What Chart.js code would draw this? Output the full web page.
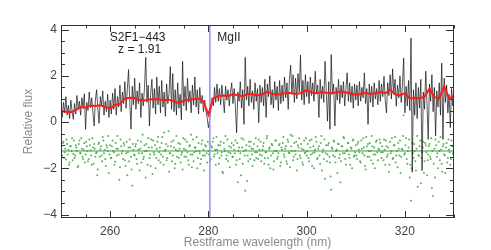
<!DOCTYPE html>
<html>
<head>
<meta charset="utf-8">
<script src="https://cdn.jsdelivr.net/npm/chart.js@4.4.1/dist/chart.umd.min.js"></script>
<style>
  html, body { margin: 0; padding: 0; background: #fff; }
  #spec { display: block; }
</style>
</head>
<body>
<canvas id="spec" width="491" height="250"></canvas>
<script>
// wavelength grid of the spectrum (nm)
const waveStart = 250;
const waveStep = 0.25;

// relative flux, one row per 5 nm
const flux = [
  0.62,0.21,0.85,0.40,1.10,0.30,0.72,0.15,0.95,0.48,0.12,0.80,0.35,1.15,0.55,0.90,0.30,1.05,0.60,1.22,
  -0.31,0.85,0.50,1.30,0.62,1.05,0.40,-0.17,0.95,1.40,0.55,-0.05,1.10,0.70,1.35,0.30,0.90,0.45,1.20,0.20,
  0.95,0.35,1.25,0.55,1.45,0.30,1.10,0.65,1.60,0.45,1.30,0.80,1.75,0.60,1.40,2.27,0.90,-0.30,1.55,0.75,
  1.90,0.55,1.35,0.80,1.70,0.20,1.25,0.70,1.50,2.80,0.85,1.60,-0.17,1.20,1.85,0.60,1.45,0.35,1.95,0.75,
  1.55,0.40,1.80,0.65,1.30,0.25,1.65,0.80,1.25,2.40,0.55,2.10,0.45,1.40,0.30,1.70,0.60,1.20,0.10,2.63,
  0.70,1.55,0.50,1.90,0.85,1.35,0.40,1.60,0.75,1.95,0.65,1.40,0.35,1.50,0.80,1.15,0.45,0.95,0.50,0.20,
  -0.24,0.10,0.55,1.05,0.70,1.50,0.85,1.65,0.90,1.45,0.75,1.60,1.05,0.40,1.55,0.95,1.40,0.70,1.30,1.70,
  0.80,1.45,0.65,-0.46,1.30,0.90,1.75,0.60,1.40,-0.10,2.80,0.95,1.55,0.70,1.85,0.85,1.35,0.55,1.70,0.90,
  1.45,-0.03,1.60,0.85,1.50,0.70,1.85,0.20,1.65,1.10,2.00,0.75,1.40,0.60,1.75,0.95,1.55,0.50,1.80,0.80,
  1.60,0.90,1.95,1.05,1.70,0.55,1.85,2.46,1.20,2.05,0.85,1.90,1.00,2.10,1.30,2.90,0.95,1.80,0.75,2.05,
  1.10,1.75,0.80,1.95,1.15,1.70,0.90,2.20,1.25,1.60,0.20,1.85,1.00,1.55,0.85,2.63,1.30,0.04,1.75,-0.31,
  2.92,1.20,1.65,-0.17,1.50,0.95,1.85,0.80,1.60,1.05,1.75,0.70,1.45,2.13,0.90,1.70,0.85,1.55,0.60,1.65,
  0.95,1.60,0.70,1.75,0.90,1.50,1.05,2.13,0.80,1.45,-0.10,1.65,0.85,1.55,0.65,1.70,1.00,1.45,0.75,1.80,
  0.90,1.65,1.10,1.98,0.95,0.40,1.70,1.15,2.05,1.00,2.30,1.20,1.85,0.69,1.60,1.05,2.00,0.85,1.55,2.77,
  0.40,1.55,0.70,1.80,0.50,3.64,-2.17,1.40,0.30,1.70,0.15,1.50,0.60,1.85,-2.10,1.30,0.55,2.20,0.80,-0.75,
  1.65,0.90,2.05,0.45,1.50,-0.60,1.35,0.65,1.70,0.30,2.55,-0.75,1.90,0.85,1.60,0.40,1.20,-0.24,1.45,0.70,
  1.10
];

// smoothed model (red), 1 nm steps from 250 to 330
const modelStart = 250;
const modelFlux = [
  0.47,0.45,0.43,0.52,0.65,0.62,0.72,0.70,0.73,0.66,
  0.58,0.74,0.78,1.02,1.05,1.04,0.95,0.93,0.98,1.00,
  0.98,0.95,0.97,0.90,0.82,0.92,0.97,1.00,1.02,0.88,
  0.32,1.02,1.13,1.15,1.13,1.20,1.16,1.12,1.22,1.20,
  1.15,1.20,1.32,1.22,1.18,1.22,1.27,1.25,1.22,1.27,
  1.38,1.28,1.25,1.30,1.27,1.25,1.28,1.32,1.28,1.24,
  1.18,1.20,1.27,1.22,1.25,1.30,1.25,1.40,1.20,1.15,
  1.25,1.02,1.05,1.02,1.10,1.44,1.08,1.03,1.55,1.02,
  1.12
];

// residuals (green dots), offset set A on the flux grid, set B shifted by half a step
const residA = [
  -1.10,-1.45,-0.85,-1.30,-1.62,-0.95,-1.20,-1.75,-1.05,-0.70,-1.38,-1.55,-1.00,-1.25,-1.90,-0.80,-1.35,-1.15,-1.60,-0.90,
  -1.40,-1.05,-1.70,-0.75,-1.22,-1.85,-1.10,-0.95,-1.50,-1.30,-2.05,-0.88,-1.18,-1.45,-0.65,-1.35,-1.60,-1.00,-1.25,-2.20,
  -1.00,-1.55,-0.80,-1.30,-1.72,-1.15,-0.60,-1.40,-1.95,-1.05,-1.25,-0.90,-1.65,-1.35,-2.30,-1.10,-0.75,-1.50,-2.76,-1.20,
  -1.45,-0.95,-1.80,-1.20,-2.10,-0.85,-1.35,-1.60,-1.00,-2.40,-1.25,-0.70,-1.55,-1.90,-1.10,-0.80,-1.40,-2.00,-1.15,-0.65,
  -1.30,-1.75,-0.90,-1.50,-0.45,-1.20,-1.65,-1.05,-2.15,-1.35,-0.85,-1.45,-1.10,-1.80,-0.60,-1.25,-1.55,-0.95,-1.40,-2.05,
  -1.15,-0.75,-1.50,-1.30,-1.85,-1.00,-0.55,-1.40,-1.70,-1.10,-1.25,-2.00,-0.90,-1.35,-1.60,-0.80,-1.20,-1.45,-1.05,-1.75,
  -1.25,-0.95,-1.60,-1.10,-0.70,-1.40,-1.85,-1.20,-1.00,-1.55,-0.85,-1.30,-2.20,-1.15,-0.60,-1.45,-1.70,-1.05,-1.35,-0.90,
  -1.50,-1.20,-0.80,-1.65,-2.60,-1.10,-1.35,-0.70,-1.80,-1.25,-2.97,-1.00,-1.45,-0.85,-1.60,-1.15,-1.90,-0.95,-1.30,-1.55,
  -1.05,-0.75,-1.40,-1.70,-1.20,-0.90,-1.55,-1.30,-0.60,-1.85,-1.10,-1.45,-1.00,-2.05,-1.25,-0.80,-1.60,-1.35,-0.95,-1.75,
  -1.20,-0.65,-1.50,-1.05,-1.80,-0.85,-1.35,-0.55,-1.25,-1.65,-0.90,-1.40,-2.10,-1.00,-0.70,-1.55,-1.15,-1.85,-0.80,-1.30,
  -1.45,-0.95,-1.70,-1.10,-0.75,-1.35,-2.00,-1.20,-0.85,-1.55,-1.05,-1.80,-0.60,-1.30,-1.60,-2.45,-1.00,-1.40,-0.90,-1.75,
  -2.93,-1.15,-0.80,-1.50,-1.25,-2.20,-0.95,-1.40,-1.70,-1.05,-0.65,-1.35,-1.85,-1.20,-0.90,-1.55,-1.10,-2.00,-0.75,-1.45,
  -1.00,-1.60,-0.85,-1.30,-1.75,-1.15,-0.70,-1.45,-2.05,-1.05,-0.95,-1.50,-1.25,-0.60,-1.80,-1.10,-1.40,-0.80,-1.65,-1.20,
  -0.90,-1.55,-1.30,-0.75,-1.85,-1.05,-1.40,-2.15,-0.85,-1.25,-1.60,-1.00,-0.65,-1.45,-1.95,-1.15,-0.80,-1.50,-1.20,0.29,
  -1.35,-0.70,-1.80,-1.10,-2.40,-3.40,-0.90,-1.55,-1.25,-2.10,-0.60,-1.45,-1.05,-2.65,-1.30,-0.85,-1.70,-1.00,-2.30,-1.40,
  -0.95,-1.60,-2.85,-3.20,-1.15,-0.75,-1.50,-2.00,-1.25,-0.65,-1.80,-1.05,-1.40,-2.20,-0.90,-1.55,-1.20,-1.85,-0.80,-1.35,
  -1.10
];
const residB = [
  -1.30,-0.90,-1.55,-1.15,-0.75,-1.40,-1.85,-1.05,-1.25,-1.65,-0.80,-1.45,-1.10,-1.95,-0.95,-1.35,-0.70,-1.50,-1.20,-1.75,
  -0.85,-1.25,-1.60,-1.00,-1.45,-0.70,-1.80,-1.15,-1.35,-2.30,-0.95,-1.50,-1.05,-1.70,-0.80,-1.20,-1.90,-1.10,-0.60,-1.40,
  -1.55,-1.05,-1.25,-1.85,-0.90,-1.45,-1.15,-2.50,-0.75,-1.35,-1.60,-1.00,-1.90,-0.85,-1.30,-1.70,-1.10,-2.05,-0.95,-1.40,
  -1.05,-1.60,-0.80,-1.35,-1.15,-1.75,-0.55,-1.50,-1.25,-0.95,-1.85,-1.10,-1.40,-0.75,-2.25,-1.30,-1.00,-1.55,-0.85,-1.65,
  -1.10,-1.40,-0.65,-1.85,-1.25,-0.95,-1.55,-0.40,-1.35,-1.05,-1.70,-0.80,-2.00,-1.20,-1.50,-0.90,-1.15,-1.75,-1.30,-0.70,
  -1.50,-1.20,-0.85,-1.65,-1.05,-1.40,-1.95,-0.75,-1.30,-1.10,-0.65,-1.55,-1.25,-1.80,-0.95,-1.45,-2.10,-1.00,-1.35,-0.85,
  -1.40,-1.70,-1.05,-0.85,-1.50,-1.20,-0.65,-1.35,-1.80,-1.00,-1.45,-2.15,-0.90,-1.25,-1.60,-0.75,-1.30,-1.95,-1.10,-1.50,
  -1.00,-1.35,-1.85,-0.90,-1.25,-1.60,-2.30,-1.10,-0.75,-1.45,-1.20,-2.55,-1.70,-1.05,-0.85,-1.40,-1.15,-1.65,-0.70,-1.30,
  -1.60,-1.20,-0.85,-1.45,-1.05,-1.80,-1.30,-0.70,-1.55,-1.15,-2.00,-0.95,-1.35,-1.70,-0.80,-1.25,-1.50,-1.00,-1.90,-1.10,
  -0.90,-1.40,-1.15,-1.70,-0.75,-1.30,-1.95,-1.05,-0.60,-1.50,-1.25,-0.85,-1.60,-1.10,-1.45,-0.95,-1.75,-1.20,-1.35,-0.70,
  -1.25,-1.55,-0.80,-1.40,-1.90,-1.05,-1.30,-0.65,-1.60,-1.15,-1.45,-0.90,-2.10,-1.20,-0.75,-1.35,-1.70,-1.00,-1.50,-2.35,
  -1.10,-1.45,-0.85,-1.75,-1.20,-0.95,-1.55,-2.60,-1.05,-1.35,-0.70,-1.60,-1.25,-0.90,-1.40,-1.85,-1.15,-0.80,-1.50,-1.30,
  -1.45,-0.95,-1.20,-1.70,-0.80,-1.35,-1.10,-1.90,-0.65,-1.50,-1.25,-0.90,-1.65,-1.05,-1.40,-2.00,-0.85,-1.30,-1.15,-0.75,
  -1.30,-1.05,-1.65,-1.20,-0.80,-1.50,-1.10,-1.85,-1.35,-0.70,-1.55,-1.00,-1.75,-1.25,-0.90,-1.45,-2.20,-1.15,-0.60,-1.40,
  -1.00,-1.60,-1.25,-0.75,-1.85,-2.00,-1.35,-0.95,-1.70,-1.15,-2.80,-1.45,-0.80,-1.55,-1.10,-2.20,-0.90,-1.30,-1.65,-1.05,
  -1.50,-0.70,-1.25,-1.80,-2.40,-1.00,-1.35,-0.85,-1.65,-1.20,-2.15,-0.95,-1.45,-1.10,-1.75,-0.75,-1.30,-1.60,-1.05,-1.40
];
const residLevel = -1.25;

const mgiiWave = 280.3;
const xTicks = [260, 280, 300, 320];
const yTicks = [-4, -2, 0, 2, 4];
const xRange = [250, 330];
const yRange = [-4.15, 4.2];

const FONT = '"Liberation Sans", Arial, Helvetica, sans-serif';

const fluxPts = flux.map((v, i) => ({ x: waveStart + i * waveStep, y: v }));
const modelPts = modelFlux.map((v, i) => ({ x: modelStart + i, y: v }));
const residPts = residA.map((v, i) => ({ x: waveStart + i * waveStep, y: v }))
  .concat(residB.map((v, i) => ({ x: waveStart + waveStep / 2 + i * waveStep, y: v })));

const minus = v => v < 0 ? '\u2212' + Math.abs(v) : String(v);

// inward tick marks, frame and text annotations
const frame = {
  id: 'frame',
  afterDraw(chart) {
    const { ctx, chartArea: a, scales: { x, y } } = chart;
    ctx.save();
    ctx.strokeStyle = '#333';
    ctx.lineWidth = 1;
    ctx.beginPath();
    for (let v = xRange[0]; v <= xRange[1]; v += 5) {
      const px = Math.round(x.getPixelForValue(v)) + 0.5;
      const len = v % 20 === 0 ? 7 : 3.5;
      ctx.moveTo(px, a.bottom); ctx.lineTo(px, a.bottom - len);
      ctx.moveTo(px, a.top); ctx.lineTo(px, a.top + len);
    }
    for (let v = -4; v <= 4; v += 0.5) {
      const py = Math.round(y.getPixelForValue(v)) + 0.5;
      const len = v % 2 === 0 ? 8 : 4;
      ctx.moveTo(a.left, py); ctx.lineTo(a.left + len, py);
      ctx.moveTo(a.right, py); ctx.lineTo(a.right - len, py);
    }
    ctx.stroke();
    ctx.strokeRect(a.left + 0.5, a.top + 0.5, a.right - a.left - 1, a.bottom - a.top - 1);

    ctx.fillStyle = '#222';
    ctx.font = '12px ' + FONT;
    ctx.textAlign = 'center';
    ctx.textBaseline = 'middle';
    ctx.fillText('S2F1\u2212443', x.getPixelForValue(265.6), y.getPixelForValue(3.66));
    ctx.fillText('z = 1.91', x.getPixelForValue(266.0), y.getPixelForValue(3.12));
    ctx.textAlign = 'left';
    ctx.fillText('MgII', x.getPixelForValue(281.8), y.getPixelForValue(3.66));

    ctx.fillStyle = '#8a8a8a';
    ctx.textAlign = 'center';
    ctx.fillText('Restframe wavelength (nm)', (a.left + a.right) / 2, 243);
    ctx.translate(29, (a.top + a.bottom) / 2);
    ctx.rotate(-Math.PI / 2);
    ctx.fillText('Relative flux', 0, 0);
    ctx.restore();
  }
};

new Chart(document.getElementById('spec'), {
  type: 'line',
  data: {
    datasets: [
      { data: modelPts, borderColor: '#ff1a1a', borderWidth: 2, pointRadius: 0, tension: 0 },
      { data: [{ x: mgiiWave, y: yRange[0] }, { x: mgiiWave, y: yRange[1] }],
        borderColor: '#8f8fff', borderWidth: 1.5, pointRadius: 0 },
      { data: fluxPts, borderColor: '#111', borderWidth: 0.7, pointRadius: 0 },
      { data: [{ x: xRange[0], y: residLevel }, { x: xRange[1], y: residLevel }],
        borderColor: '#3f9a3f', borderWidth: 1, pointRadius: 0 },
      { data: residPts, showLine: false, pointRadius: 1, pointBorderWidth: 0,
        pointBackgroundColor: 'rgba(60,165,60,0.85)' }
    ]
  },
  options: {
    responsive: false,
    animation: false,
    layout: { padding: { left: 0, right: 37, top: 25, bottom: 0 } },
    plugins: { legend: { display: false }, tooltip: { enabled: false } },
    scales: {
      x: {
        type: 'linear', min: xRange[0], max: xRange[1],
        afterBuildTicks: s => { s.ticks = xTicks.map(v => ({ value: v })); },
        afterFit: s => { s.height = 32; },
        grid: { display: false, drawTicks: false },
        border: { display: false },
        ticks: { color: '#444', padding: 6, maxRotation: 0, autoSkip: false,
                 font: { family: FONT, size: 12 } }
      },
      y: {
        min: yRange[0], max: yRange[1],
        afterBuildTicks: s => { s.ticks = yTicks.map(v => ({ value: v })); },
        afterFit: s => { s.width = 61; },
        grid: { display: false, drawTicks: false },
        border: { display: false },
        ticks: { color: '#444', padding: 4, autoSkip: false, callback: minus,
                 font: { family: FONT, size: 12 } }
      }
    }
  },
  plugins: [frame]
});
</script>
</body>
</html>
